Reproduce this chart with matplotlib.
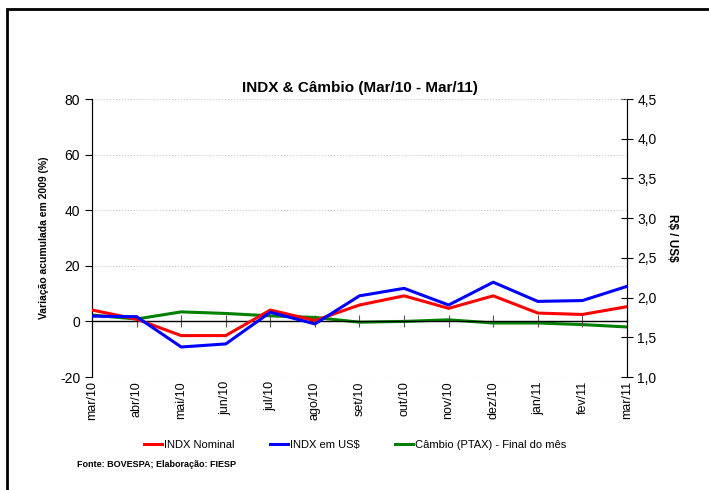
import matplotlib
matplotlib.use('Agg')
import matplotlib.pyplot as plt
from matplotlib.patches import Rectangle
from matplotlib.ticker import FuncFormatter, MultipleLocator

plt.rcParams['font.family'] = ['Liberation Sans', 'DejaVu Sans']
plt.rcParams['axes.unicode_minus'] = False

# dados
meses = ['mar/10', 'abr/10', 'mai/10', 'jun/10', 'jul/10', 'ago/10', 'set/10',
         'out/10', 'nov/10', 'dez/10', 'jan/11', 'fev/11', 'mar/11']
indx_nominal = [4.1, 0.8, -5.1, -5.1, 4.1, 0.3, 5.9, 9.2, 4.7, 9.2, 3.0, 2.5, 5.3]
indx_usd = [1.9, 1.7, -9.2, -8.1, 3.3, -0.9, 9.2, 11.9, 5.9, 14.1, 7.2, 7.5, 12.6]
cambio = [1.78, 1.73, 1.82, 1.80, 1.77, 1.75, 1.69, 1.70, 1.72, 1.68, 1.68, 1.66, 1.63]

fig = plt.figure(figsize=(7.09, 4.90), dpi=100)
ax = fig.add_axes([0.1298, 0.2306, 0.7545, 0.5673])
ax2 = ax.twinx()

x = list(range(len(meses)))
l1, = ax.plot(x, indx_nominal, color='#FF0000', lw=2.2, label='INDX Nominal', zorder=3)
l2, = ax.plot(x, indx_usd, color='#0000FF', lw=2.2, label='INDX em US\\$', zorder=3)
l3, = ax2.plot(x, cambio, color='#008000', lw=2.2, label='Câmbio (PTAX) - Final do mês')

ax.set_xlim(0, len(meses) - 1)
ax.set_ylim(-20, 80)
ax.yaxis.set_major_locator(MultipleLocator(20))
ax.grid(axis='y', color='#c8c8c8', ls=':', lw=0.8)
ax.set_zorder(ax2.get_zorder() + 1)
ax.patch.set_visible(False)

# eixo x cruzando no zero
ax.spines['top'].set_visible(False)
ax.spines['bottom'].set_position(('data', 0))
ax.spines['bottom'].set_linewidth(1.0)
ax.set_xticks(x)
ax.tick_params(axis='x', direction='inout', length=8, color='#555555',
               labelbottom=False)
for i, m in enumerate(meses):
    ax.text(i, -0.015, m, transform=ax.get_xaxis_transform(), rotation=90,
            ha='center', va='top', fontsize=9)

ax.tick_params(axis='y', direction='out', length=5, labelsize=10)
ax.set_ylabel('Variação acumulada em 2009 (%)', fontsize=7.5, fontweight='bold',
              labelpad=8)

ax2.set_ylim(1.0, 4.5)
ax2.yaxis.set_major_locator(MultipleLocator(0.5))
ax2.yaxis.set_major_formatter(FuncFormatter(lambda v, p: f'{v:.1f}'.replace('.', ',')))
ax2.tick_params(axis='y', direction='inout', length=8, labelsize=10)
ax2.spines['top'].set_visible(False)
ax2.spines['bottom'].set_visible(False)
ax2.set_ylabel('R\\$ / US\\$', fontsize=8.5, fontweight='bold', rotation=-90,
               labelpad=15)

fig.text(0.508, 0.812, 'INDX & Câmbio (Mar/10 - Mar/11)', ha='center',
         fontsize=11, fontweight='bold')

fig.legend(handles=[l1, l2, l3], loc='center', bbox_to_anchor=(0.5014, 0.092),
           ncol=3, frameon=False, fontsize=8, handlelength=1.6,
           handletextpad=0.2, columnspacing=3.2)

fig.text(0.109, 0.046, 'Fonte: BOVESPA; Elaboração: FIESP', fontsize=6.5,
         fontweight='bold')

# moldura
fig.patches.append(Rectangle((7 / 709, -0.1), 1.2, 1 - 9 / 490 + 0.1,
                             transform=fig.transFigure, fill=False,
                             ec='black', lw=2))

fig.savefig('out.png', dpi=100)
